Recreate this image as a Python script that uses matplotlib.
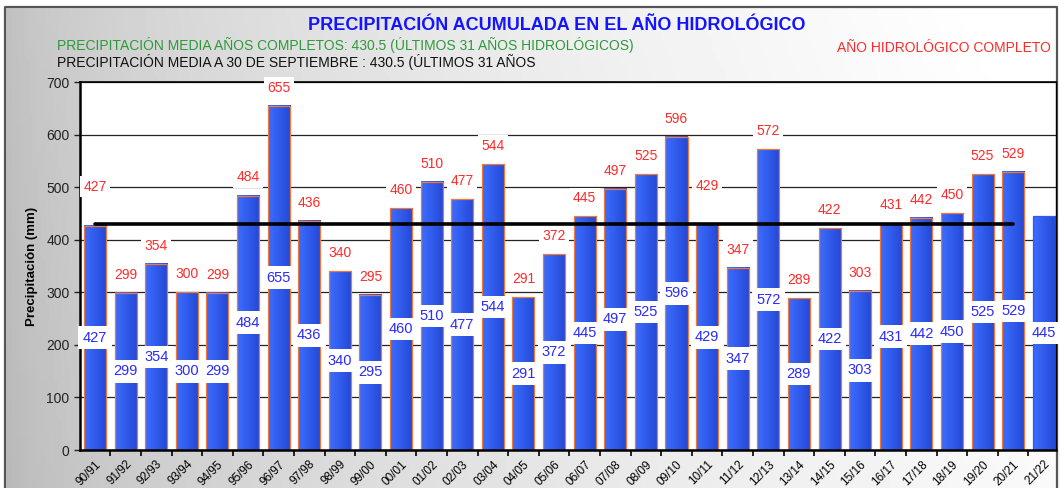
import numpy as np
import matplotlib.pyplot as plt
from matplotlib.colors import LinearSegmentedColormap
from matplotlib.patches import Rectangle

plt.rcParams['font.family'] = ['Liberation Sans', 'DejaVu Sans']

# precipitacion acumulada por año hidrologico (mm)
years = ['90/91', '91/92', '92/93', '93/94', '94/95', '95/96', '96/97', '97/98',
         '98/99', '99/00', '00/01', '01/02', '02/03', '03/04', '04/05', '05/06',
         '06/07', '07/08', '08/09', '09/10', '10/11', '11/12', '12/13', '13/14',
         '14/15', '15/16', '16/17', '17/18', '18/19', '19/20', '20/21', '21/22']
precip = [427, 299, 354, 300, 299, 484, 655, 436, 340, 295, 460, 510, 477, 544,
          291, 372, 445, 497, 525, 596, 429, 347, 572, 289, 422, 303, 431, 442,
          450, 525, 529, 445]
n_complete = 31  # el ultimo año aun no esta cerrado
media = 430.5

fig = plt.figure(figsize=(10.6, 4.88), dpi=100)

# fondo gris degradado con marco
bg = fig.add_axes([0, 0, 1, 1], zorder=-10)
gx = np.linspace(0, 1, 256)
gy = np.linspace(0, 1, 64)
GX, GY = np.meshgrid(gx, gy)
shade = 0.70 + 0.28 * np.sqrt(GX) + 0.03 * GY
bg.imshow(shade, cmap='gray', vmin=0, vmax=1, extent=[0, 1, 0, 1],
          aspect='auto', origin='lower')
bg.fill_between([0, 1], 1 - 7 / 488, 1, color='white', zorder=1)
bg.fill_between([0, 5 / 1060], 0, 1, color='white', zorder=1)
bg.plot([5 / 1060, 5 / 1060, 1057 / 1060, 1057 / 1060],
        [0, 1 - 7 / 488, 1 - 7 / 488, 0], color='#555555', lw=1.6, zorder=2)
bg.set_xlim(0, 1)
bg.set_ylim(0, 1)
bg.axis('off')

ax = fig.add_axes([80 / 1060, 38 / 488, 976 / 1060, 368 / 488])
ax.set_facecolor('white')

x = np.arange(len(years))
width = 0.72
bar_cmap = LinearSegmentedColormap.from_list('barras', ['#3d6dff', '#2448d6'])
grad = np.linspace(0, 1, 64).reshape(1, -1)

# base solida debajo del degradado para que no quede halo claro en los bordes
ax.bar(x, precip, width=width, color='#2f5aee', lw=0, zorder=1.9)
for i, v in enumerate(precip):
    ax.imshow(grad, cmap=bar_cmap, extent=[x[i] - width / 2, x[i] + width / 2, 0, v],
              aspect='auto', zorder=2, interpolation='bicubic')
    edge = '#f07838' if i < n_complete else '#2f5aee'
    ax.add_patch(Rectangle((x[i] - width / 2, 0), width, v, fill=False,
                           edgecolor=edge, lw=0.9, zorder=2.5))

# media de los años completos
ax.plot([x[0], x[n_complete - 1]], [media, media], color='black', lw=2.6,
        solid_capstyle='round', zorder=4)

# etiquetas: total arriba (años completos) y en el centro de la barra
for i, v in enumerate(precip):
    ax.annotate(str(v), (x[i], v / 2), ha='center', va='center', fontsize=10.5,
                color='#2a2aff', zorder=5,
                bbox=dict(boxstyle='square,pad=0.3', fc='white', ec='none'))
    if i < n_complete:
        off = 28 if media - 5 < v < media else 13
        ax.annotate(str(v), (x[i], v), xytext=(0, off), textcoords='offset points',
                    ha='center', va='center', fontsize=10, color='#ff2a2a', zorder=5,
                    bbox=dict(boxstyle='square,pad=0.25', fc='white', ec='none'))

ax.set_xlim(-0.49, len(years) - 0.6)
ax.set_ylim(0, 700)
ax.set_yticks(range(0, 701, 100))
ax.yaxis.grid(True, color='#222222', lw=0.9, zorder=0)
ax.set_axisbelow(True)
ax.tick_params(axis='y', labelsize=10, length=4, width=1, colors='#222222')

ax.set_xticks(x)
ax.set_xticklabels(years, rotation=45, ha='right', rotation_mode='anchor', fontsize=8.5)
ax.set_xticks(x[:-1] + 0.5, minor=True)
ax.tick_params(axis='x', which='major', length=0, pad=6)
ax.tick_params(axis='x', which='minor', length=4, width=1.2)

for s in ['left', 'bottom']:
    ax.spines[s].set_linewidth(1.8)
ax.spines['top'].set_linewidth(1.2)
ax.spines['right'].set_linewidth(1.0)
ax.set_ylabel('Precipitación (mm)', fontsize=9.5, fontweight='bold', labelpad=6)

fig.text(0.525, 1 - 25 / 488, 'PRECIPITACIÓN ACUMULADA EN EL AÑO HIDROLÓGICO',
         ha='center', va='center', fontsize=13, fontweight='bold', color='#1414ff')
fig.text(57 / 1060, 1 - 45 / 488,
         'PRECIPITACIÓN MEDIA AÑOS COMPLETOS: 430.5 (ÚLTIMOS 31 AÑOS HIDROLÓGICOS)',
         ha='left', va='center', fontsize=10, color='#2e9a3a')
fig.text(57 / 1060, 1 - 62 / 488,
         'PRECIPITACIÓN MEDIA A 30 DE SEPTIEMBRE : 430.5 (ÚLTIMOS 31 AÑOS',
         ha='left', va='center', fontsize=10, color='#111111')
fig.text(837 / 1060, 1 - 48 / 488, 'AÑO HIDROLÓGICO COMPLETO',
         ha='left', va='center', fontsize=10, color='#ff2a2a')

fig.savefig('out.png', dpi=100)
